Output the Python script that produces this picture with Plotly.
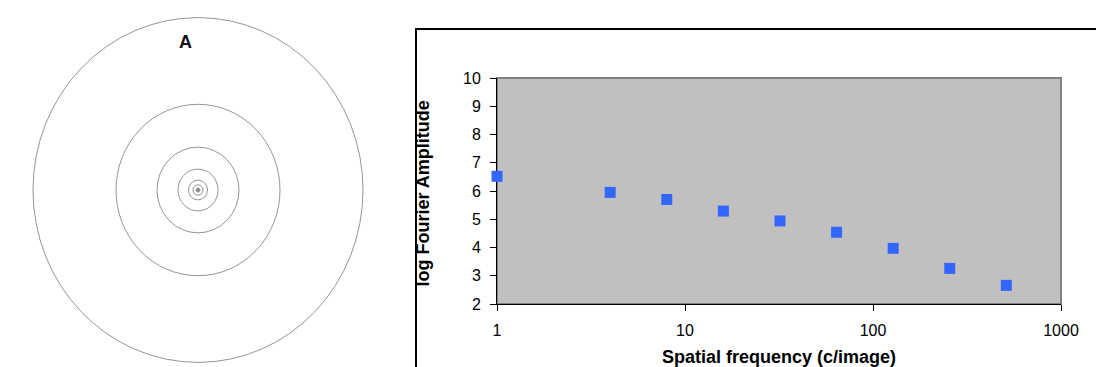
import plotly.graph_objects as go

# Radial amplitude spectrum: log amplitude vs spatial frequency
FREQ = [1, 4, 8, 16, 32, 64, 128, 256, 512]
LOG_AMP = [6.52, 5.95, 5.70, 5.29, 4.94, 4.54, 3.97, 3.26, 2.66]

X_TICKS = [1, 10, 100, 1000]
X_TICK_TEXT = ["1", "10", "100", "1000"]
Y_TICKS = [2, 3, 4, 5, 6, 7, 8, 9, 10]

# Iso-amplitude contour radii of the 2-D spectrum (panel A)
CONTOUR_RADII = [165, 82, 41, 20, 9.5, 5, 2]
CONTOUR_ASPECT = 1.045

W, H = 1096, 367
FONT = "Liberation Sans, Arial, sans-serif"

fig = go.Figure()

# Panel A: concentric contour rings
shapes = []
for r in CONTOUR_RADII:
    shapes.append(dict(
        type="circle", xref="x", yref="y",
        x0=-r, x1=r, y0=-r * CONTOUR_ASPECT, y1=r * CONTOUR_ASPECT,
        line=dict(color="#959595", width=1),
    ))
# small filled centre
shapes.append(dict(
    type="circle", xref="x", yref="y",
    x0=-1.2, x1=1.2, y0=-1.2, y1=1.2,
    line=dict(color="#777777", width=1), fillcolor="#999999",
))

# Scatter panel
fig.add_trace(go.Scatter(
    x=FREQ, y=LOG_AMP, mode="markers",
    marker=dict(symbol="square", size=11, color="#3366FF",
                line=dict(width=0)),
    xaxis="x2", yaxis="y2", cliponaxis=False, showlegend=False,
    hoverinfo="x+y",
))

px_l, px_r, px_t, px_b = 497, 1061, 78, 304

# outer chart frame (left and top edges; the rest runs off the page)
fx = 416 / W
fy = (H - 29) / H
shapes.append(dict(
    type="path", xref="paper", yref="paper",
    path=f"M {fx},0 L {fx},{fy} L 1,{fy}",
    line=dict(color="#000000", width=2), layer="below",
))
# grey plot area with its border
shapes.append(dict(
    type="rect", xref="x2 domain", yref="y2 domain",
    x0=0, x1=1, y0=0, y1=1,
    line=dict(color="#808080", width=2), fillcolor="#C0C0C0",
    layer="below",
))

fig.update_layout(
    width=W, height=H,
    margin=dict(l=0, r=0, t=0, b=0, pad=0, autoexpand=False),
    paper_bgcolor="white",
    plot_bgcolor="white",
    font=dict(family=FONT, size=16, color="black"),
    shapes=shapes,
    xaxis=dict(domain=[0, 400 / W], range=[-198, 202], visible=False,
               fixedrange=True, automargin=False),
    yaxis=dict(domain=[0, 1], range=[-177, 190], visible=False,
               fixedrange=True, automargin=False),
    xaxis2=dict(
        domain=[px_l / W, px_r / W], anchor="y2",
        type="log", range=[0, 3],
        tickvals=X_TICKS, ticktext=X_TICK_TEXT,
        ticks="outside", ticklen=6, tickwidth=1, tickcolor="black",
        showline=True, linecolor="black", linewidth=1,
        showgrid=False, zeroline=False, layer="below traces",
        tickfont=dict(family=FONT, size=16, color="black"),
        ticklabelstandoff=6, automargin=False,
    ),
    yaxis2=dict(
        domain=[(H - px_b) / H, (H - px_t) / H], anchor="x2",
        range=[2, 10], tickvals=Y_TICKS,
        ticks="outside", ticklen=6, tickwidth=1, tickcolor="black",
        showline=True, linecolor="black", linewidth=1,
        showgrid=False, zeroline=False, layer="below traces",
        tickfont=dict(family=FONT, size=16, color="black"),
        ticklabelstandoff=6, automargin=False,
    ),
    annotations=[
        dict(text="<b>A</b>", xref="x", yref="y", x=-13, y=148,
             xanchor="center", yanchor="middle",
             showarrow=False, font=dict(family=FONT, size=18, color="#111")),
        dict(text="<b>Spatial frequency (c/image)</b>",
             xref="paper", yref="paper", x=(px_l + px_r) / 2 / W,
             y=(H - 357) / H, xanchor="center", yanchor="middle",
             showarrow=False,
             font=dict(family=FONT, size=18, color="black")),
        dict(text="<b>log Fourier Amplitude</b>", textangle=-90,
             xref="paper", yref="paper", x=423 / W,
             y=(H - 193.5) / H, xanchor="center", yanchor="middle",
             showarrow=False,
             font=dict(family=FONT, size=18, color="black")),
    ],
)

fig.write_html("out.html")
